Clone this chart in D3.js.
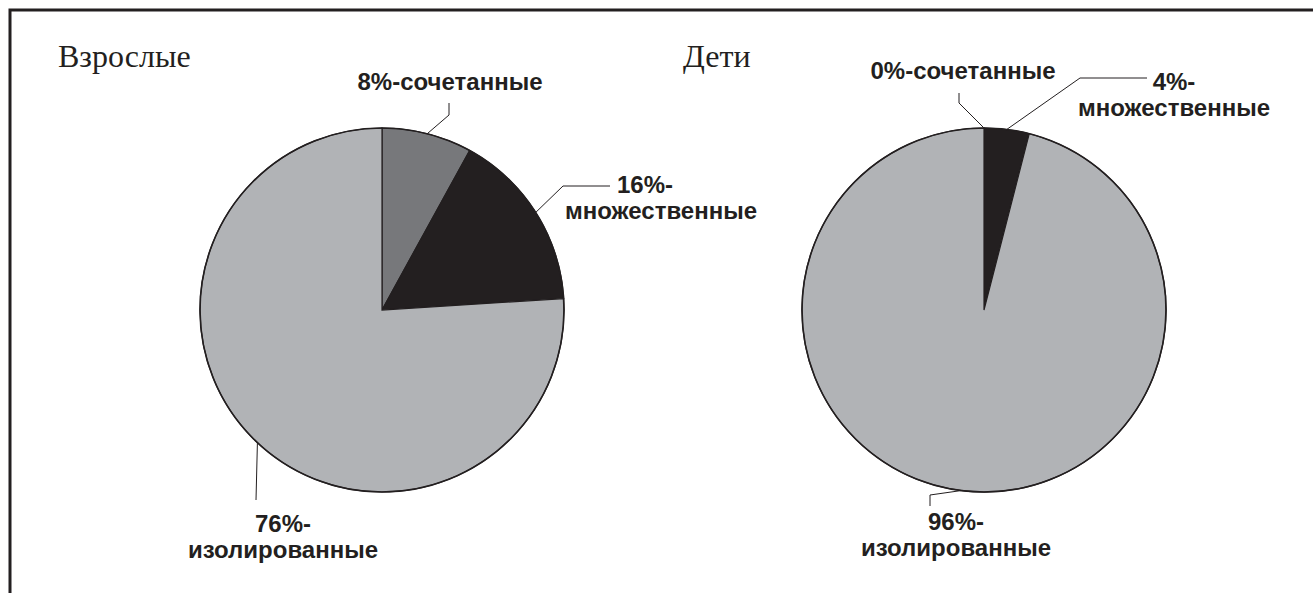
<!DOCTYPE html>
<html>
<head>
<meta charset="utf-8">
<script src="https://cdn.jsdelivr.net/npm/d3@7"></script>
<style>
  html, body { margin: 0; padding: 0; background: #fff; }
  svg { display: block; }
  .title { font-family: 'Liberation Serif', 'Times New Roman', serif; font-size: 32px; fill: #231f20; }
  .lbl { font-family: 'Liberation Sans', Arial, sans-serif; font-weight: bold; font-size: 24px; fill: #231f20; }
  .leader { fill: none; stroke: #231f20; stroke-width: 1; }
</style>
</head>
<body>
<svg id="chart"></svg>
<script>
// data
const categories = ['сочетанные', 'множественные', 'изолированные'];
const adultValues = [8, 16, 76];
const childValues = [0, 4, 96];
const groupNames = ['Взрослые', 'Дети'];

const W = 1313, H = 593;
const colors = ['#77787b', '#231f20', '#b1b3b6'];

const svg = d3.select('#chart').attr('width', W).attr('height', H);

// frame (cropped: only top + left edges visible)
svg.append('path')
  .attr('d', `M10,${H} L10,10 L${W},10`)
  .attr('fill', 'none')
  .attr('stroke', '#231f20')
  .attr('stroke-width', 3);

const radius = 182;

// label layout, relative to the pie center: elbow / end of leader, text anchor
const layouts = [
  {
    cx: 382, cy: 310, title: { x: 58, y: 67 },
    labels: [
      { pts: [[67, -195], [67, -207]], tx: 68, ty: -220, lines: 1 },
      { pts: [[181, -124], [228, -124]], tx: 279, ty: -117, dx1: -16, lines: 2 },
      { pts: [[-126, 190]], tx: -99, ty: 222, lines: 2 },
    ],
  },
  {
    cx: 984, cy: 310, title: { x: 683, y: 67 },
    labels: [
      { pts: [[-25, -207], [-25, -217]], tx: -21, ty: -231, lines: 1 },
      { pts: [[96, -232], [163, -232]], tx: 190, ty: -220, lines: 2 },
      { pts: [[-54, 185], [-54, 196]], tx: -28, ty: 220, lines: 2 },
    ],
  },
];

const pie = d3.pie().sort(null).value(d => d);
const arc = d3.arc().innerRadius(0).outerRadius(radius);

[adultValues, childValues].forEach((values, gi) => {
  const lay = layouts[gi];
  const g = svg.append('g').attr('transform', `translate(${lay.cx},${lay.cy})`);
  const arcs = pie(values);

  g.selectAll('path.slice')
    .data(arcs)
    .enter()
    .append('path')
    .attr('class', 'slice')
    .attr('d', arc)
    .attr('fill', (d, i) => colors[i])
    .attr('stroke', '#231f20')
    .attr('stroke-width', d => (d.endAngle - d.startAngle > 0 ? 1.2 : 0));

  // outline
  g.append('circle')
    .attr('r', radius)
    .attr('fill', 'none')
    .attr('stroke', '#231f20')
    .attr('stroke-width', 1.6);

  svg.append('text')
    .attr('class', 'title')
    .attr('x', lay.title.x)
    .attr('y', lay.title.y)
    .text(groupNames[gi]);

  arcs.forEach((a, i) => {
    const L = lay.labels[i];
    const mid = (a.startAngle + a.endAngle) / 2;
    const start = [radius * Math.sin(mid), -radius * Math.cos(mid)];
    g.append('path')
      .attr('class', 'leader')
      .attr('d', d3.line()([start, ...L.pts]));

    const pct = `${values[i]}%-`;
    const t = g.append('text')
      .attr('class', 'lbl')
      .attr('text-anchor', 'middle')
      .attr('x', L.tx)
      .attr('y', L.ty);
    if (L.lines === 1) {
      t.text(pct + categories[i]);
    } else {
      t.append('tspan').attr('x', L.tx + (L.dx1 || 0)).text(pct);
      t.append('tspan').attr('x', L.tx).attr('dy', 26).text(categories[i]);
    }
  });
});
</script>
</body>
</html>
